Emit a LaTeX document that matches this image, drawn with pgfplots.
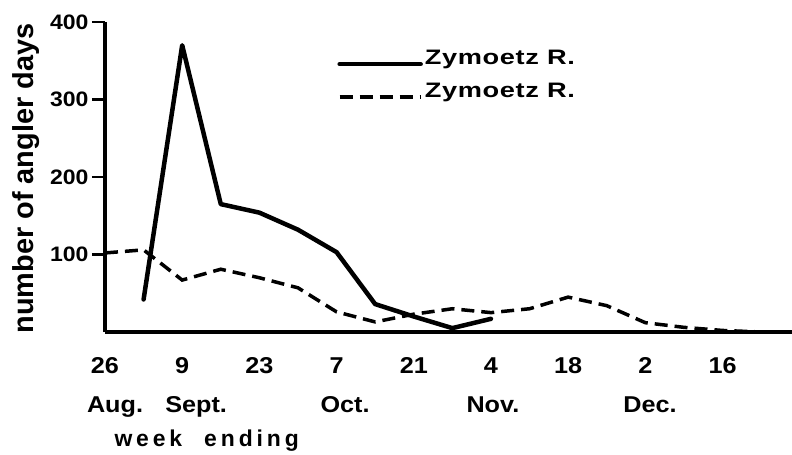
\documentclass[border=0pt]{standalone}
\usepackage{fontspec}
\setmainfont{Liberation Sans}
\newfontfamily\legfont{Liberation Sans}[FakeStretch=1.3,LetterSpace=3]
\newfontfamily\numfont{Liberation Sans}[FakeStretch=1.1]
\newfontfamily\wefont{Liberation Sans}[LetterSpace=17]
\usepackage{pgfplots}
\pgfplotsset{compat=1.18}
\begin{document}
\begin{tikzpicture}
\useasboundingbox (0,0) rectangle (792bp,455bp);
\begin{axis}[
  at={(105bp,123bp)}, anchor=south west,
  scale only axis, width=687bp, height=310bp,
  xmin=0, xmax=17.8, ymin=0, ymax=400,
  clip=false,
  axis lines=left,
  axis line style={line width=4.5bp, -},
  tick align=outside,
  major tick length=13bp,
  ytick={100,200,300,400},
  ytick style={line width=2.5bp, black},
  yticklabel style={font=\fontsize{21}{24}\selectfont\numfont\bfseries},
  xtick={0,2,...,16},
  xticklabels={26,9,23,7,21,4,18,2,16},
  xtick style={draw=none},
  xticklabel style={font=\fontsize{23}{26}\selectfont\numfont\bfseries, inner sep=0pt, anchor=base, yshift=-28bp},
  extra x ticks={0.26,2.36,6.22,10.05,14.12},
  extra x tick labels={Aug.,Sept.,Oct.,Nov.,Dec.},
  extra x tick style={tick style={draw=none}, tick label style={yshift=-39bp}},
  /pgf/number format/assume math mode=true,
  xlabel={week\hspace{22bp}ending},
  xlabel style={at={(axis description cs:0.148,0)}, anchor=north, inner sep=0pt, yshift=-98bp, font=\fontsize{23}{26}\selectfont\wefont\bfseries},
  ylabel={number of angler days},
  ylabel style={at={(axis description cs:-0.115,0.495)}, anchor=center, inner sep=0pt, font=\fontsize{29}{32}\selectfont\bfseries},
  legend style={at={(axis description cs:0.338,0.916)}, anchor=north west, draw=none, fill=none, inner sep=0pt, row sep=13bp, font=\fontsize{21}{24}\selectfont\legfont\bfseries},
  legend cell align=left,
  legend image code/.code={\draw[#1] (0bp,-6bp) -- (81bp,-6bp);},
]
\addplot[black, line width=4.5bp, line join=round, line cap=round] coordinates {
(1,42) (2,370) (3,165) (4,154) (5,132) (6,103) (7,36) (8,20) (9,5) (10,17)
};
\addlegendentry{Zymoetz R.}
\addplot[black, line width=3.5bp, dash pattern=on 13bp off 7bp] coordinates {
(0,102) (1,106) (2,67) (3,81) (4,70) (5,57) (6,26) (7,13) (8,23) (9,30) (10,25) (11,30) (12,45) (13,34) (14,12) (15,6) (16,2) (17,0) (17.8,0)
};
\addlegendentry{Zymoetz R.}
\end{axis}
\end{tikzpicture}
\end{document}
